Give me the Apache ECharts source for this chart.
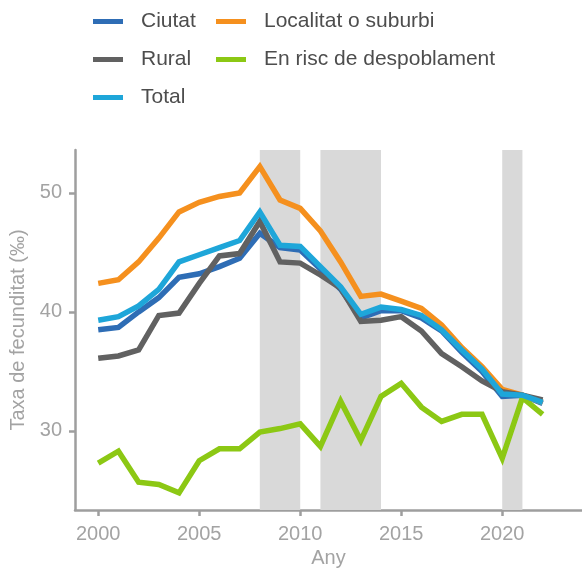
<!DOCTYPE html>
<html>
<head>
<meta charset="utf-8">
<script src="https://cdn.jsdelivr.net/npm/echarts@6/dist/echarts.min.js"></script>
<style>
  html, body { margin: 0; padding: 0; background: #fff; }
  #main { width: 582px; height: 569px; }
</style>
</head>
<body>
<div id="main"></div>
<script>
// dades
var anys = [2000, 2001, 2002, 2003, 2004, 2005, 2006, 2007, 2008, 2009, 2010, 2011,
            2012, 2013, 2014, 2015, 2016, 2017, 2018, 2019, 2020, 2021, 2022];
var ciutat = [38.5, 38.7, 40.0, 41.2, 42.9, 43.2, 43.8, 44.5, 46.6, 45.4, 45.2, 43.6,
              41.9, 39.5, 40.1, 40.1, 39.5, 38.4, 36.6, 35.0, 32.9, 33.0, 32.3];
var localitat = [42.4, 42.7, 44.2, 46.2, 48.4, 49.2, 49.7, 50.0, 52.2, 49.4, 48.7, 46.8,
                 44.2, 41.3, 41.5, 40.9, 40.3, 38.9, 37.0, 35.4, 33.5, 33.0, 32.4];
var rural = [36.1, 36.3, 36.8, 39.7, 39.9, 42.4, 44.7, 44.9, 47.6, 44.2, 44.1, 43.1,
             42.0, 39.2, 39.3, 39.6, 38.4, 36.5, 35.4, 34.2, 33.3, 33.0, 32.6];
var risc = [27.3, 28.3, 25.7, 25.5, 24.8, 27.5, 28.5, 28.5, 29.9, 30.2, 30.6, 28.7,
            32.5, 29.2, 32.9, 34.0, 32.0, 30.8, 31.4, 31.4, 27.7, 32.8, 31.4];
var total = [39.3, 39.6, 40.5, 41.9, 44.2, 44.8, 45.4, 46.0, 48.4, 45.6, 45.5, 43.8,
             42.1, 39.8, 40.4, 40.2, 39.7, 38.5, 36.8, 35.2, 33.1, 33.0, 32.4];
// periodes ombrejats (inici, final)
var periodes = [[2008, 2010], [2011, 2014], [2020, 2021]];
var ticksX = [2000, 2005, 2010, 2015, 2020];
var ticksY = [30, 40, 50];

var myChart = echarts.init(document.getElementById('main'));

function parells(vals) {
    var out = [];
    for (var i = 0; i < anys.length; i++) {
        out.push([anys[i], vals[i]]);
    }
    return out;
}

function linia(nom, vals, color, z) {
    return {
        name: nom,
        type: 'line',
        data: parells(vals),
        showSymbol: false,
        symbol: 'none',
        z: z,
        lineStyle: { color: color, width: 5.5, join: 'miter' },
        itemStyle: { color: color },
        emphasis: { disabled: true }
    };
}

var areas = [];
for (var i = 0; i < periodes.length; i++) {
    areas.push([{ xAxis: periodes[i][0] }, { xAxis: periodes[i][1] }]);
}

var font = 'Liberation Sans, Arial, sans-serif';
var grisText = '#a3a3a3';
var grisEix = '#9e9e9e';
var legendText = { color: '#4d4d4d', fontSize: 21, fontFamily: font, padding: [0, 0, 0, 13] };

option = {
    animation: false,
    backgroundColor: '#fff',
    legend: [
        {
            orient: 'vertical',
            left: 93,
            top: 11,
            padding: 0,
            itemWidth: 30,
            itemHeight: 5,
            itemGap: 17,
            icon: 'rect',
            data: ['Ciutat', 'Rural', 'Total'],
            textStyle: legendText
        },
        {
            orient: 'vertical',
            left: 216,
            top: 11,
            padding: 0,
            itemWidth: 30,
            itemHeight: 5,
            itemGap: 17,
            icon: 'rect',
            data: ['Localitat o suburbi', 'En risc de despoblament'],
            textStyle: legendText
        }
    ],
    grid: { left: 75, right: 0, top: 150, bottom: 59, containLabel: false, outerBoundsMode: 'none' },
    xAxis: {
        type: 'value',
        min: 1998.85,
        max: 2023.95,
        name: 'Any',
        nameLocation: 'middle',
        nameGap: 38,
        nameTextStyle: { color: grisText, fontSize: 20, fontFamily: font },
        splitLine: { show: false },
        axisLine: { show: true, lineStyle: { color: grisEix, width: 2.5 } },
        axisTick: { show: true, length: 6, customValues: ticksX, lineStyle: { color: grisEix, width: 2.5 } },
        axisLabel: {
            customValues: ticksX,
            margin: 14,
            color: grisText,
            fontSize: 20,
            fontFamily: font,
            formatter: function (v) { return String(v); }
        }
    },
    yAxis: {
        type: 'value',
        min: 23.36,
        max: 53.6,
        name: 'Taxa de fecunditat (‰)',
        nameLocation: 'middle',
        nameGap: 42,
        nameTextStyle: { color: grisText, fontSize: 20, fontFamily: font },
        splitLine: { show: false },
        axisLine: { show: true, lineStyle: { color: grisEix, width: 2.5 } },
        axisTick: { show: true, length: 6, customValues: ticksY, lineStyle: { color: grisEix, width: 2.5 } },
        axisLabel: {
            customValues: ticksY,
            margin: 13,
            color: grisText,
            fontSize: 20,
            fontFamily: font
        }
    },
    series: [
        {
            name: 'ombra',
            type: 'line',
            data: [],
            z: 1,
            markArea: {
                silent: true,
                itemStyle: { color: '#d9d9d9' },
                data: areas
            }
        },
        linia('Ciutat', ciutat, '#2e6db5', 2),
        linia('Localitat o suburbi', localitat, '#f5901e', 3),
        linia('Rural', rural, '#616161', 4),
        linia('En risc de despoblament', risc, '#8cc814', 5),
        linia('Total', total, '#1ea6d9', 6)
    ]
};

myChart.setOption(option);
</script>
</body>
</html>
